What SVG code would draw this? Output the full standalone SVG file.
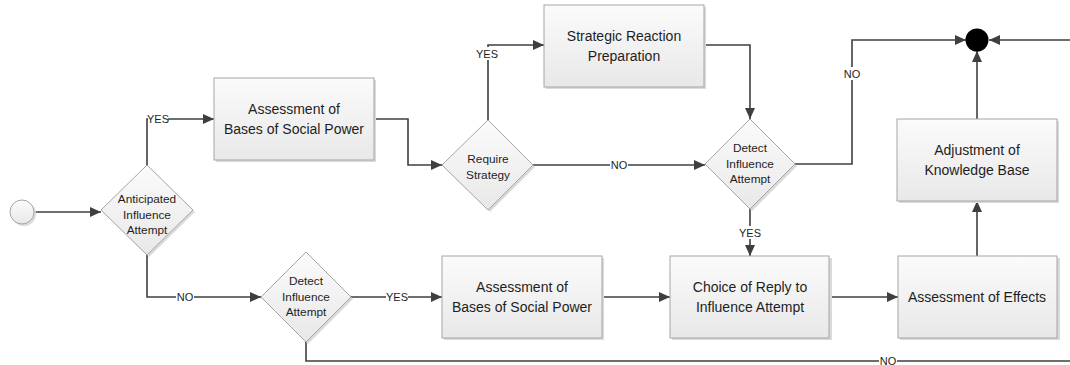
<svg xmlns="http://www.w3.org/2000/svg" width="1070" height="365" viewBox="0 0 1070 365">
  <defs>
    <linearGradient id="g" x1="0" y1="0" x2="0" y2="1">
      <stop offset="0" stop-color="#fbfbfb"/>
      <stop offset="1" stop-color="#e8e8e8"/>
    </linearGradient>
    <marker id="arr" markerUnits="userSpaceOnUse" markerWidth="12" markerHeight="10" refX="11" refY="5" orient="auto">
      <path d="M0,0 L11,5 L0,10 z" fill="#3f3f3f"/>
    </marker>
    <style>
      .box { fill: url(#g); stroke: #a5a5a5; stroke-width: 1; }
      .shadow { fill: #dadada; stroke: none; }
      .t { font-family: "Liberation Sans", Arial, sans-serif; font-size: 14px; fill: #1e1e1e; text-anchor: middle; }
      .ts { font-family: "Liberation Sans", Arial, sans-serif; font-size: 11.8px; fill: #1e1e1e; text-anchor: middle; }
      .lb { font-family: "Liberation Sans", Arial, sans-serif; font-size: 11px; fill: #1e1e1e; text-anchor: middle; dominant-baseline: central; }
      .lbg { fill: #ffffff; }
      .c { fill: none; stroke: #3f3f3f; stroke-width: 1.6; }
      .ca { fill: none; stroke: #3f3f3f; stroke-width: 1.6; marker-end: url(#arr); }
    </style>
  </defs>

  <g id="connectors">
    <path class="ca" d="M34,212 H101"/>
    <path class="ca" d="M147,165 V119 H214"/>
    <path class="ca" d="M374,119 H408 V165 H442"/>
    <path class="ca" d="M488,120 V45 H544"/>
    <path class="ca" d="M704,45 H750 V119"/>
    <path class="ca" d="M533,165 H705"/>
    <path class="ca" d="M795,164 H852 V40 H966"/>
    <path class="ca" d="M1070,40 H989"/>
    <path class="ca" d="M977,119 V51"/>
    <path class="ca" d="M977,256 V201"/>
    <path class="ca" d="M750,209 V256"/>
    <path class="ca" d="M829,297 H898"/>
    <path class="ca" d="M147,255 V297 H261"/>
    <path class="ca" d="M351,297 H442"/>
    <path class="ca" d="M602,297 H670"/>
    <path class="c" d="M306,342 V361 H1070"/>
    <!-- labels -->
    <rect class="lbg" x="148" y="112" width="20" height="13"/>
    <text class="lb" x="158" y="119">YES</text>
    <rect class="lbg" x="477" y="47" width="20" height="13"/>
    <text class="lb" x="487" y="54">YES</text>
    <rect class="lbg" x="610" y="158" width="18" height="13"/>
    <text class="lb" x="619" y="165">NO</text>
    <rect class="lbg" x="843" y="67" width="18" height="13"/>
    <text class="lb" x="852" y="74">NO</text>
    <rect class="lbg" x="740" y="226" width="20" height="13"/>
    <text class="lb" x="750" y="233">YES</text>
    <rect class="lbg" x="176" y="290" width="18" height="13"/>
    <text class="lb" x="185" y="297">NO</text>
    <rect class="lbg" x="386" y="290" width="22" height="13"/>
    <text class="lb" x="397" y="297">YES</text>
    <rect class="lbg" x="879" y="354" width="18" height="13"/>
    <text class="lb" x="888" y="361">NO</text>
  </g>

  <g id="start">
    <circle cx="24" cy="214" r="12" fill="#dadada"/>
    <circle cx="22" cy="212" r="12" fill="url(#g)" stroke="#a5a5a5" stroke-width="1"/>
  </g>

  <g id="end">
    <circle cx="977" cy="40" r="11.5" fill="#000000"/>
  </g>

  <g id="anticipated">
    <polygon class="shadow" points="149,167 195,212 149,257 103,212"/>
    <polygon class="box" points="147,165 193,210 147,255 101,210"/>
    <text class="ts" x="147" y="203">Anticipated</text>
    <text class="ts" x="147" y="219">Influence</text>
    <text class="ts" x="147" y="234">Attempt</text>
  </g>

  <g id="assess-upper">
    <rect class="shadow" x="216" y="80" width="160" height="82"/>
    <rect class="box" x="214" y="78" width="160" height="82"/>
    <text class="t" x="294" y="114">Assessment of</text>
    <text class="t" x="294" y="134">Bases of Social Power</text>
  </g>

  <g id="require">
    <polygon class="shadow" points="490,122 535,167 490,212 444,167"/>
    <polygon class="box" points="488,120 533,165 488,210 442,165"/>
    <text class="ts" x="488" y="163">Require</text>
    <text class="ts" x="488" y="179">Strategy</text>
  </g>

  <g id="strategic">
    <rect class="shadow" x="546" y="7" width="160" height="82"/>
    <rect class="box" x="544" y="5" width="160" height="82"/>
    <text class="t" x="624" y="41">Strategic Reaction</text>
    <text class="t" x="624" y="61">Preparation</text>
  </g>

  <g id="detect-upper">
    <polygon class="shadow" points="752,121 797,166 752,211 707,166"/>
    <polygon class="box" points="750,119 795,164 750,209 705,164"/>
    <text class="ts" x="750" y="152">Detect</text>
    <text class="ts" x="750" y="168">Influence</text>
    <text class="ts" x="750" y="183">Attempt</text>
  </g>

  <g id="adjustment">
    <rect class="shadow" x="899" y="121" width="160" height="82"/>
    <rect class="box" x="897" y="119" width="160" height="82"/>
    <text class="t" x="977" y="155">Adjustment of</text>
    <text class="t" x="977" y="175">Knowledge Base</text>
  </g>

  <g id="detect-lower">
    <polygon class="shadow" points="308,254 353,299 308,344 263,299"/>
    <polygon class="box" points="306,252 351,297 306,342 261,297"/>
    <text class="ts" x="306" y="285">Detect</text>
    <text class="ts" x="306" y="301">Influence</text>
    <text class="ts" x="306" y="316">Attempt</text>
  </g>

  <g id="assess-lower">
    <rect class="shadow" x="444" y="258" width="160" height="82"/>
    <rect class="box" x="442" y="256" width="160" height="82"/>
    <text class="t" x="522" y="292">Assessment of</text>
    <text class="t" x="522" y="312">Bases of Social Power</text>
  </g>

  <g id="choice">
    <rect class="shadow" x="672" y="258" width="160" height="82"/>
    <rect class="box" x="670" y="256" width="159" height="82"/>
    <text class="t" x="750" y="292">Choice of Reply to</text>
    <text class="t" x="750" y="312">Influence Attempt</text>
  </g>

  <g id="effects">
    <rect class="shadow" x="900" y="258" width="160" height="82"/>
    <rect class="box" x="898" y="256" width="159" height="82"/>
    <text class="t" x="977" y="302">Assessment of Effects</text>
  </g>
</svg>
